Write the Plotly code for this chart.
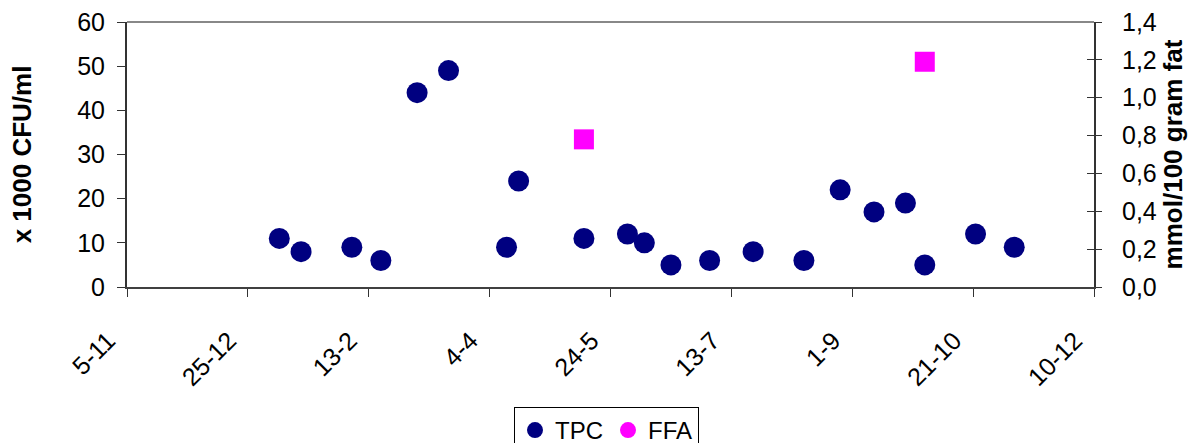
import plotly.graph_objects as go

# ---- data ----
tpc_dates = ["2003-01-07", "2003-01-16", "2003-02-06", "2003-02-18", "2003-03-05",
             "2003-03-18", "2003-04-11", "2003-04-16", "2003-05-13", "2003-05-31",
             "2003-06-07", "2003-06-18", "2003-07-04", "2003-07-22", "2003-08-12",
             "2003-08-27", "2003-09-10", "2003-09-23", "2003-10-01", "2003-10-22",
             "2003-11-07"]
tpc_values = [11, 8, 9, 6, 44, 49, 9, 24, 11, 12, 10, 5, 6, 8, 6, 22, 17, 19, 5, 12, 9]

ffa_dates = ["2003-05-13", "2003-10-01"]
ffa_values = [0.78, 1.19]

tick_dates = ["2002-11-05", "2002-12-25", "2003-02-13", "2003-04-04", "2003-05-24",
              "2003-07-13", "2003-09-01", "2003-10-21", "2003-12-10"]
tick_labels = ["5-11", "25-12", "13-2", "4-4", "24-5", "13-7", "1-9", "21-10", "10-12"]

NAVY = "#000080"
MAGENTA = "#FF00FF"
FONT = "Arial, Liberation Sans, sans-serif"
TICK_SIZE = 25

fig = go.Figure()
fig.add_trace(go.Scatter(x=tpc_dates, y=tpc_values, mode="markers", name="TPC",
                         marker=dict(symbol="circle", size=21, color=NAVY), yaxis="y"))
fig.add_trace(go.Scatter(x=ffa_dates, y=ffa_values, mode="markers", name="FFA values",
                         marker=dict(symbol="square", size=20, color=MAGENTA),
                         yaxis="y2", showlegend=False))
# legend entry for FFA (the reference legend shows a round marker)
fig.add_trace(go.Scatter(x=[None], y=[None], mode="markers", name="FFA",
                         marker=dict(symbol="circle", size=21, color=MAGENTA),
                         yaxis="y", hoverinfo="skip"))
# carrier for the inner tick marks of the right axis
fig.add_trace(go.Scatter(x=[tick_dates[0]], y=[None], mode="markers", showlegend=False,
                         yaxis="y3", hoverinfo="skip"))

fig.update_layout(
    width=1198, height=443,
    margin=dict(l=127, r=104, t=22, b=156, autoexpand=False),
    paper_bgcolor="white", plot_bgcolor="white",
    separators=",.",
    font=dict(family=FONT, size=TICK_SIZE, color="black"),
    showlegend=True,
    legend=dict(orientation="h", xref="container", x=514 / 1198, xanchor="left",
                yref="container", y=(443 - 407) / 443, yanchor="top",
                bordercolor="black", borderwidth=1, font=dict(size=24),
                itemsizing="trace", traceorder="normal"),
    xaxis=dict(type="date", range=["2002-11-05", "2003-12-10"],
               tickvals=tick_dates, ticktext=tick_labels, tickangle=-45,
               ticks="outside", ticklen=8, tickwidth=1, tickcolor="#333333",
               showline=True, linecolor="#404040", linewidth=2,
               showgrid=False, zeroline=False, automargin=False,
               ticklabelstandoff=19, ticklabelshift=-19,
               tickfont=dict(size=TICK_SIZE)),
    yaxis=dict(range=[0, 60], dtick=10, ticks="outside", ticklen=8, tickwidth=1,
               tickcolor="#333333",
               showline=True, linecolor="#333333", linewidth=2,
               showgrid=False, zeroline=False, automargin=False,
               ticklabelstandoff=7,
               title=dict(text="<b>x 1000 CFU/ml</b>", font=dict(size=26), standoff=38),
               tickfont=dict(size=TICK_SIZE)),
    yaxis2=dict(range=[0, 1.4], dtick=0.2, tickformat=".1f", overlaying="y", side="right",
                ticks="outside", ticklen=6, tickwidth=1, tickcolor="#333333",
                showline=True, linecolor="#333333", linewidth=2,
                showgrid=False, zeroline=False, automargin=False,
                ticklabelstandoff=15,
                title=dict(text="<b>mmol/100 gram fat</b>", font=dict(size=26), standoff=8),
                tickfont=dict(size=TICK_SIZE)),
    yaxis3=dict(range=[0, 1.4], dtick=0.2, overlaying="y", side="right", anchor="x",
                ticks="inside", ticklen=7, tickwidth=1, tickcolor="#333333",
                showticklabels=False, showline=False, showgrid=False, zeroline=False),
    shapes=[dict(type="line", xref="paper", yref="paper", x0=0, x1=1, y0=1, y1=1,
                 line=dict(color="#888888", width=2), layer="below")],
)

fig.write_html("out.html")
